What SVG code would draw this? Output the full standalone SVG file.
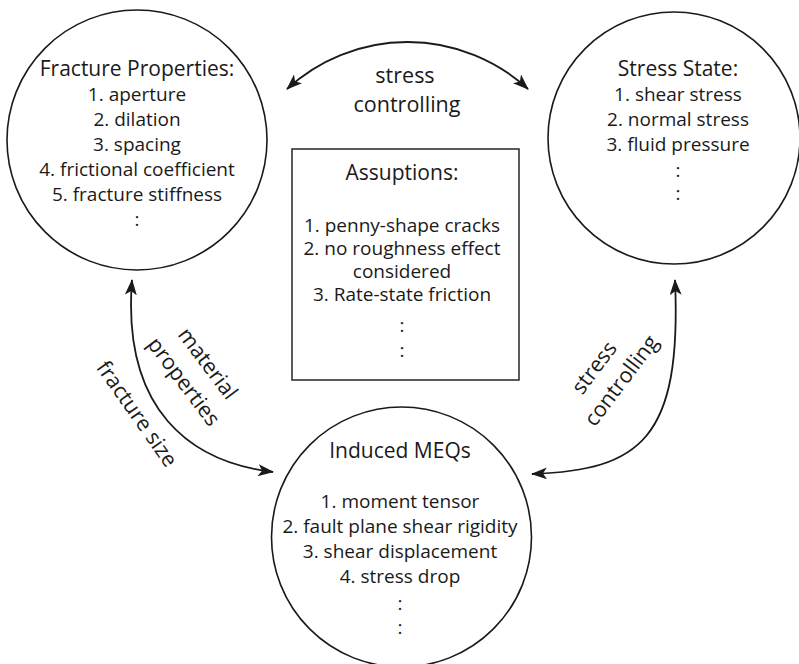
<svg xmlns="http://www.w3.org/2000/svg" width="799" height="664" viewBox="0 0 799 664">
<defs>
<style>
text{font-family:"Open Sans","Noto Sans","DejaVu Sans",sans-serif;fill:#1a1a1a;text-anchor:middle}
.t{font-size:21px}
.i{font-size:19px}
.l{font-size:21.5px}
.node{fill:#fff;stroke:#1a1a1a;stroke-width:1.6}
.box{fill:#fff;stroke:#333;stroke-width:1.6}
.arr{fill:none;stroke:#1a1a1a;stroke-width:1.8;marker-start:url(#ah);marker-end:url(#ah)}
</style>
<marker id="ah" viewBox="0 0 16 12" refX="15" refY="6" markerWidth="16" markerHeight="12" markerUnits="userSpaceOnUse" orient="auto-start-reverse">
<path d="M0,0 L16,6 L0,12 L4,6 Z" fill="#1a1a1a"/>
</marker>
</defs>
<rect width="799" height="664" fill="#fff"/>

<g id="fracture-properties">
<circle class="node" cx="137" cy="140" r="130"/>
<text class="t" x="137" y="76">Fracture Properties:</text>
<text class="i" x="137" y="101">1. aperture</text>
<text class="i" x="137" y="126">2. dilation</text>
<text class="i" x="137" y="151">3. spacing</text>
<text class="i" x="137" y="176">4. frictional coefficient</text>
<text class="i" x="137" y="201">5. fracture stiffness</text>
<text class="i" x="137" y="226">:</text>
</g>

<g id="stress-state">
<circle class="node" cx="674" cy="138" r="126"/>
<text class="t" x="678" y="76">Stress State:</text>
<text class="i" x="678" y="101">1. shear stress</text>
<text class="i" x="678" y="126">2. normal stress</text>
<text class="i" x="678" y="151">3. fluid pressure</text>
<text class="i" x="678" y="177">:</text>
<text class="i" x="678" y="200">:</text>
</g>

<g id="assumptions">
<rect class="box" x="292" y="149" width="227" height="231"/>
<text class="t" x="402" y="180">Assuptions:</text>
<text class="i" x="402" y="232">1. penny-shape cracks</text>
<text class="i" x="402" y="255">2. no roughness effect</text>
<text class="i" x="402" y="278">considered</text>
<text class="i" x="402" y="301">3. Rate-state friction</text>
<text class="i" x="402" y="332">:</text>
<text class="i" x="402" y="357">:</text>
</g>

<g id="induced-meqs">
<circle class="node" cx="401.5" cy="537" r="130"/>
<text class="t" x="400" y="458">Induced MEQs</text>
<text class="i" x="400" y="508">1. moment tensor</text>
<text class="i" x="400" y="533">2. fault plane shear rigidity</text>
<text class="i" x="400" y="558">3. shear displacement</text>
<text class="i" x="400" y="583">4. stress drop</text>
<text class="i" x="400" y="610">:</text>
<text class="i" x="400" y="634">:</text>
</g>

<g id="connectors">
<path class="arr" d="M287,89 A178,178 0 0 1 528,89"/>
<path class="arr" d="M132,280 C122,410 190,462 273,472"/>
<path class="arr" d="M675,280 C682,440 640,470 532,474"/>
<text class="l" x="405" y="83">stress</text>
<text class="l" x="407" y="112">controlling</text>
<text class="l" transform="translate(202,368) rotate(53)">material</text>
<text class="l" transform="translate(178,386) rotate(53)">properties</text>
<text class="l" transform="translate(131,418) rotate(55)">fracture size</text>
<text class="l" transform="translate(600,372) rotate(-53)">stress</text>
<text class="l" transform="translate(627,385) rotate(-53)">controlling</text>
</g>
</svg>
